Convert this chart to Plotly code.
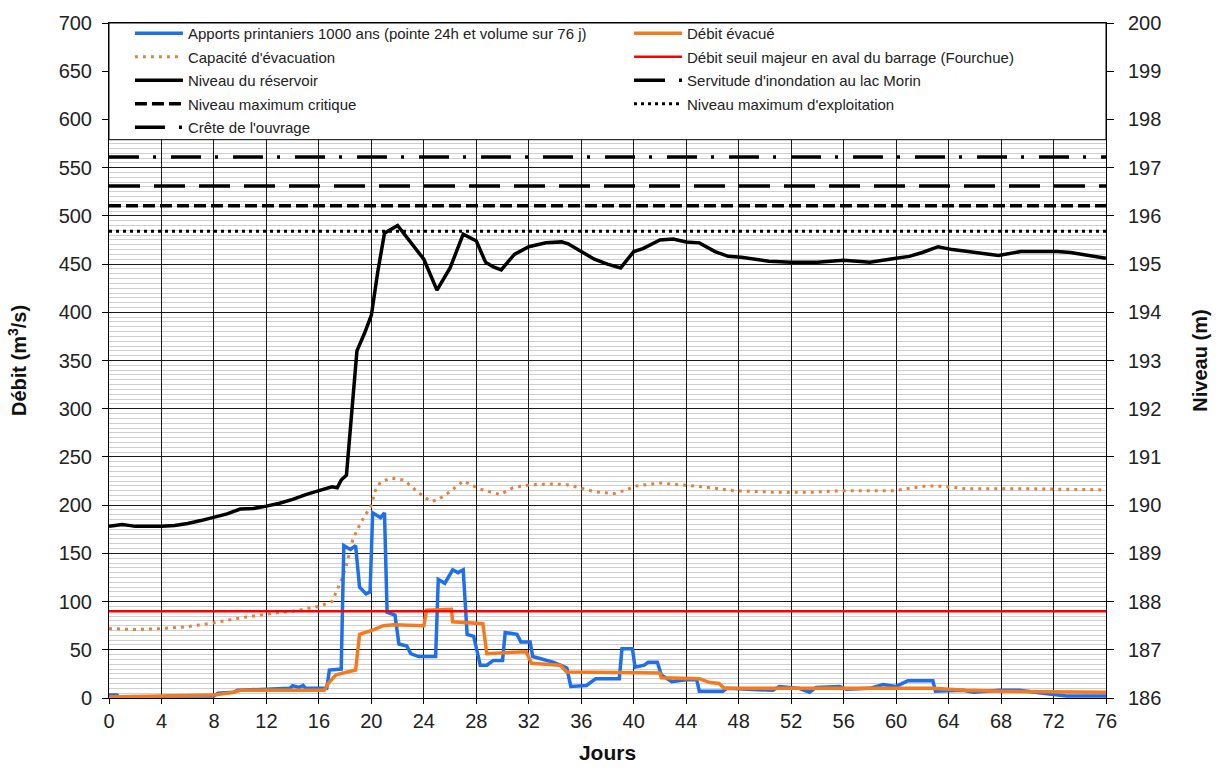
import plotly.graph_objects as go

# ---------------- data ----------------
days_max = 76

# Apports printaniers 1000 ans (m3/s)
apports_j = [0, 0.6, 0.8, 4, 4.5, 8, 8.3, 9.5, 9.8, 13.8, 14, 14.5, 14.8, 15, 16.6, 16.8, 17.7,
             17.9, 18.4, 18.8, 19.1, 19.6, 19.9, 20.1, 20.7, 21, 21.2, 21.8, 22.1, 22.7, 23, 23.6,
             24.9, 25.1, 25.6, 26.2, 26.6, 27, 27.3, 27.8, 28.3, 28.8, 29.3, 30, 30.2, 31.1, 31.4,
             32.1, 32.3, 33.9, 34.4, 34.9, 35.2, 36.4, 37.1, 38.9, 39.1, 39.9, 40.1, 40.8, 41.1,
             41.8, 42.1, 42.9, 44, 44.8, 45, 46.8, 47.1, 50.6, 51.1, 52.6, 53.4, 53.9, 55.7, 56.2,
             58, 59, 60, 60.9, 62.8, 63, 65.1, 65.9, 67.9, 69.4, 71.2, 73, 76]
apports_q = [3, 3, 1, 1, 2, 2, 5, 6, 8, 10, 12.7, 11, 13, 10, 10, 29, 30,
             158, 154, 158, 115, 108, 110, 192, 187, 192, 89, 86, 56, 54, 46, 43,
             43, 123, 119, 133, 130, 133, 66, 64, 34, 34, 39, 39, 68, 66, 58,
             58, 43, 37, 34, 31, 12, 13, 20, 20, 51, 51, 32, 34, 37,
             37, 24, 17, 19, 19, 7, 7, 10, 8, 12, 10, 6, 11, 12, 9,
             10, 14, 12, 18, 18, 7, 8, 6, 8, 8, 5, 2, 2]

# Débit évacué (m3/s)
evacue_j = [0, 5, 8, 9.5, 10, 16.4, 16.7, 17.3, 18.4, 18.8, 19.1, 19.6, 20.2, 20.9, 21.7, 24,
            24.2, 26.1, 26.2, 28.5, 28.8, 31.8, 32.2, 34.4, 34.9, 42, 42.1, 45, 45.8, 46.5, 46.9,
            62.8, 65.3, 67.9, 76]
evacue_q = [1, 2, 3, 6, 8, 8, 15, 24, 27, 29, 66, 68, 71, 75, 76, 75,
            91, 92, 79, 77, 46, 48, 36, 34, 27, 26, 21, 20, 16, 15, 10,
            10, 8, 7, 6]

# Capacité d'évacuation (m3/s)
capacite_j = [0, 2, 4, 6, 8, 10, 12, 14, 16, 17, 17.8, 18.1, 18.6, 19.2, 20, 20.3, 20.7, 21.5,
              22.5, 23.5, 24.5, 25, 26, 27, 28.2, 29.8, 30.8, 32, 34, 35, 37, 38.5, 39.5, 40, 42,
              43.8, 45.6, 47.6, 50.6, 53.7, 56, 59.8, 62.3, 63.6, 65.3, 70, 75.5, 76]
capacite_q = [72, 71, 72, 74, 78, 83, 87, 90, 95, 100, 125, 138, 165, 182, 200, 215, 224, 228,
              226, 214, 204, 205, 214, 225, 217, 211, 218, 221, 222, 221, 214, 212, 216, 219.5, 223,
              221, 218.5, 215, 213.5, 213.5, 215, 215, 220, 219.5, 217, 217, 216, 215]

# Débit seuil majeur en aval du barrage (m3/s)
seuil_j = [0, 76]
seuil_q = [90, 90]

# Niveau du réservoir (m)
niveau_j = [0, 0.5, 1, 1.5, 2, 3, 4, 5, 6, 7, 8, 9, 10, 11, 12, 13, 14, 15, 16, 17, 17.4, 17.7,
            18.1, 18.5, 18.9, 19.5, 20, 20.5, 21, 22, 23, 24, 25, 26, 27, 28, 28.7, 29.3, 29.9,
            30.9, 32, 33.3, 34.5, 35, 36, 37, 38, 39, 40, 40.7, 42, 43, 44, 45, 46.2, 47.2, 48.2,
            50.3, 52, 54, 56, 58, 60, 61, 62, 63.2, 64.3, 66, 67.8, 69.5, 72.3, 73.3, 75.4, 76]
niveau_m = [189.56, 189.58, 189.60, 189.58, 189.56, 189.56, 189.56, 189.58, 189.62, 189.68,
            189.75, 189.82, 189.92, 189.93, 189.98, 190.04, 190.12, 190.22, 190.30, 190.38,
            190.36, 190.52, 190.62, 192.00, 193.20, 193.58, 193.94, 194.86, 195.64, 195.80,
            195.44, 195.10, 194.46, 194.92, 195.62, 195.48, 195.04, 194.94, 194.88, 195.20,
            195.36, 195.44, 195.46, 195.42, 195.26, 195.10, 195.00, 194.92, 195.26, 195.32,
            195.50, 195.52, 195.46, 195.44, 195.26, 195.16, 195.14, 195.06, 195.04, 195.04,
            195.08, 195.04, 195.12, 195.16, 195.24, 195.36, 195.30, 195.24, 195.18, 195.26,
            195.26, 195.24, 195.14, 195.12]

# Niveaux de référence (m)
ref_j = [0, 76]
crete_m = 197.22
servitude_m = 196.62
critique_m = 196.21
exploitation_m = 195.68

x_ticks = list(range(0, 77, 4))

# ---------------- figure ----------------
FONT = "Liberation Sans, Arial, sans-serif"
fig = go.Figure()

fig.add_trace(go.Scatter(x=capacite_j, y=capacite_q, mode="lines", name="Capacité d'évacuation",
                         line=dict(color="#E5803F", width=3, dash="3px,5px"),
                         legend="legend", legendgroup="g2", legendrank=2))
fig.add_trace(go.Scatter(x=apports_j, y=apports_q, mode="lines",
                         name="Apports printaniers 1000 ans (pointe 24h et volume sur 76 j)",
                         line=dict(color="#1F6FE8", width=3.5),
                         legend="legend", legendgroup="g1", legendrank=1))
fig.add_trace(go.Scatter(x=evacue_j, y=evacue_q, mode="lines", name="Débit évacué",
                         line=dict(color="#F47A1F", width=3.5),
                         legend="legend2", legendgroup="h1", legendrank=1))
fig.add_trace(go.Scatter(x=seuil_j, y=seuil_q, mode="lines",
                         name="Débit seuil majeur en aval du barrage (Fourchue)",
                         line=dict(color="#FF0000", width=2.5),
                         legend="legend2", legendgroup="h2", legendrank=2))
fig.add_trace(go.Scatter(x=niveau_j, y=niveau_m, mode="lines", name="Niveau du réservoir",
                         line=dict(color="black", width=3.5), yaxis="y2",
                         legend="legend", legendgroup="g3", legendrank=3))
fig.add_trace(go.Scatter(x=ref_j, y=[servitude_m] * 2, mode="lines",
                         name="Servitude d'inondation au lac Morin",
                         line=dict(color="black", width=3.5, dash="31px,14px"), yaxis="y2",
                         legend="legend2", legendgroup="h3", legendrank=3))
fig.add_trace(go.Scatter(x=ref_j, y=[critique_m] * 2, mode="lines", name="Niveau maximum critique",
                         line=dict(color="black", width=3.5, dash="12px,5px"), yaxis="y2",
                         legend="legend", legendgroup="g4", legendrank=4))
fig.add_trace(go.Scatter(x=ref_j, y=[exploitation_m] * 2, mode="lines",
                         name="Niveau maximum d'exploitation",
                         line=dict(color="black", width=3, dash="3px,4px"), yaxis="y2",
                         legend="legend2", legendgroup="h4", legendrank=4))
fig.add_trace(go.Scatter(x=ref_j, y=[crete_m] * 2, mode="lines", name="Crête de l'ouvrage",
                         line=dict(color="black", width=3.5, dash="30px,14px,3px,15px"), yaxis="y2",
                         legend="legend", legendgroup="g5", legendrank=5))

legend_common = dict(y=1.0088, xanchor="left", yanchor="top", bgcolor="rgba(0,0,0,0)",
                     borderwidth=0, font=dict(family=FONT, size=15, color="#222"),
                     itemwidth=48, tracegroupgap=1, traceorder="grouped", orientation="v")

fig.update_layout(
    width=1220, height=779,
    margin=dict(l=109, r=114, t=20, b=81),
    paper_bgcolor="white", plot_bgcolor="white",
    font=dict(family=FONT, color="#222"),
    legend=dict(x=0.021, **legend_common),
    legend2=dict(x=0.5216, **legend_common),
    xaxis=dict(range=[0, days_max], tickvals=x_ticks, ticks="outside", ticklen=5,
               tickcolor="black", showline=True, linecolor="black", linewidth=1, mirror=True,
               showgrid=True, gridcolor="#1a1a1a", gridwidth=1, zeroline=False,
               tickfont=dict(family=FONT, size=20, color="#222"),
               title=dict(text="<b>Jours</b>", font=dict(family=FONT, size=21, color="#111"),
                          standoff=14)),
    yaxis=dict(range=[0, 700], dtick=50, ticks="outside", ticklen=6, tickcolor="black",
               showline=True, linecolor="black", linewidth=1, showgrid=True,
               gridcolor="#1a1a1a", gridwidth=1, zeroline=False,
               minor=dict(dtick=5, showgrid=True, gridcolor="#cfcfcf", gridwidth=1),
               tickfont=dict(family=FONT, size=20, color="#222"), ticklabelstandoff=6,
               title=dict(text="<b>Débit (m<sup>3</sup>/s)</b>",
                          font=dict(family=FONT, size=20, color="#111"), standoff=26)),
    yaxis2=dict(range=[186, 200], dtick=1, overlaying="y", side="right", ticks="outside",
                ticklen=7, tickcolor="black", showline=True, linecolor="black", linewidth=1,
                showgrid=False, zeroline=False,
                tickfont=dict(family=FONT, size=20, color="#222"), ticklabelstandoff=10,
                title=dict(text="<b>Niveau (m)</b>", font=dict(family=FONT, size=20, color="#111"),
                           standoff=32)),
    shapes=[dict(type="rect", xref="paper", yref="y", x0=0, x1=1, y0=579, y1=700,
                 fillcolor="white", line=dict(color="black", width=1), layer="above")],
)

fig.write_html("out.html")
